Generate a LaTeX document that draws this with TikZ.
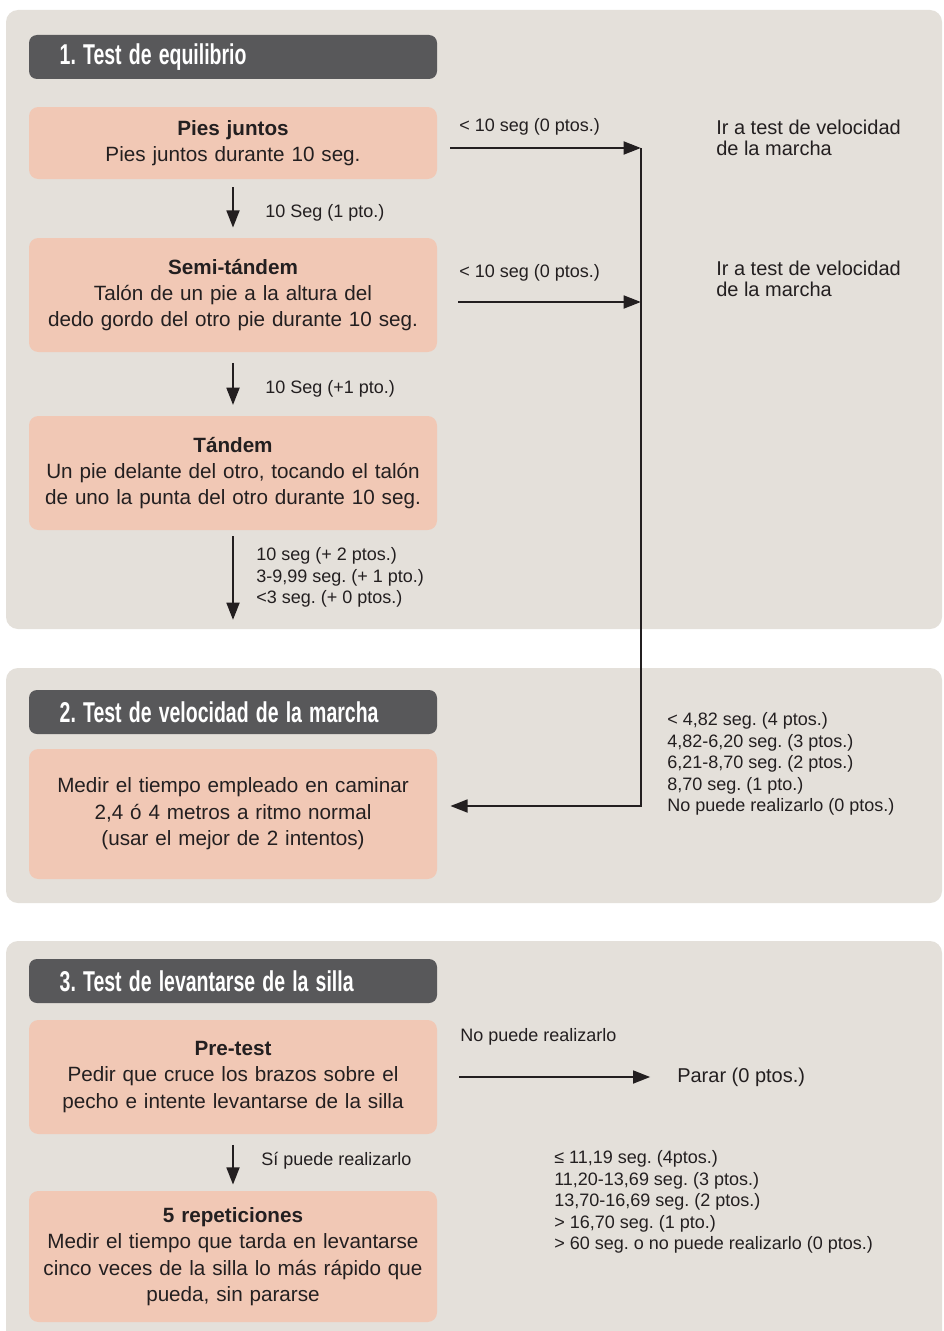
\documentclass[tikz,border=0pt]{standalone}
\usepackage{fontspec}
\setmainfont{Liberation Sans}
\newfontfamily\headfont[FakeStretch=0.68]{Liberation Sans}
\newcommand\hdspacing{\spaceskip=0.25em plus 0.05em\relax}
\frenchspacing
\usetikzlibrary{arrows.meta}
\definecolor{panelbg}{HTML}{E4E0DA}
\definecolor{boxbg}{HTML}{F1C8B5}
\definecolor{headbg}{HTML}{58585A}
\definecolor{ink}{HTML}{231F20}
\tikzset{
  panel/.style={fill=panelbg, draw=none, rounded corners=9pt},
  headbox/.style={fill=headbg, draw=none, rounded corners=6pt, minimum width=306pt, minimum height=33pt,
    text width=260pt, inner xsep=23pt, inner ysep=0pt, align=left, text=white,
    font=\headfont\bfseries\fontsize{21.5}{22}\selectfont},
  stepbox/.style={fill=boxbg, draw=none, rounded corners=7pt, minimum width=306pt,
    text width=300pt, inner xsep=3pt, align=center, text=ink,
    font=\fontsize{15.5}{19.8}\selectfont},
  lbl/.style={inner sep=0pt, anchor=west, align=left, text=ink, font=\fontsize{13.5}{16.1}\selectfont},
  biglbl/.style={inner sep=0pt, anchor=west, align=left, text=ink, font=\fontsize{15}{15.9}\selectfont},
  conn/.style={draw=ink, line width=2.1pt},
  arr/.style={conn, -{Triangle[length=13pt,width=9.5pt]}},
}
\begin{document}
\frenchspacing
\begin{tikzpicture}[x=0.75pt,y=-0.75pt]
\clip (0,0) rectangle (943,1331);
\fill[white] (0,0) rectangle (943,1331);
% panels
\fill[panel] (6,10) rectangle (942,629);
\fill[panel] (6,668) rectangle (942,903);
\fill[panel] (6,941) rectangle (942,1360);

% headers
\node[headbox] (h1) at (233,57) {\hdspacing 1. Test de equilibrio};
\node[headbox] (h2) at (233,712) {\hdspacing 2. Test de velocidad de la marcha};
\node[headbox] (h3) at (233,981) {\hdspacing 3. Test de levantarse de la silla};

% section 1 boxes
\node[stepbox, minimum height=54pt] (p1) at (233,143) {\textbf{Pies juntos}\\Pies juntos durante 10 seg.};
\node[stepbox, minimum height=85.5pt] (p2) at (233,295) {\textbf{Semi-tándem}\\Talón de un pie a la altura del\\dedo gordo del otro pie durante 10 seg.};
\node[stepbox, minimum height=85.5pt] (p3) at (233,473) {\textbf{Tándem}\\Un pie delante del otro, tocando el talón\\de uno la punta del otro durante 10 seg.};

% section 2 box
\node[stepbox, minimum height=97.5pt] (m1) at (233,814) {Medir el tiempo empleado en caminar\\2,4 ó 4 metros a ritmo normal\\(usar el mejor de 2 intentos)};

% section 3 boxes
\node[stepbox, minimum height=85.5pt] (q1) at (233,1077) {\textbf{Pre-test}\\Pedir que cruce los brazos sobre el\\pecho e intente levantarse de la silla};
\node[stepbox, minimum height=98.25pt] (q2) at (233,1256.5) {\textbf{5 repeticiones}\\Medir el tiempo que tarda en levantarse\\cinco veces de la silla lo más rápido que\\pueda, sin pararse};

% coordinates
\coordinate (j1) at (641,148);
\coordinate (j2) at (641,302);
\coordinate (j3) at (641,806);
\coordinate (e3) at (233,620);

% vertical arrows
\draw[arr, shorten <=6pt, shorten >=7.5pt] (p1.south) -- (p2.north);
\draw[arr, shorten <=8pt, shorten >=8pt] (p2.south) -- (p3.north);
\draw[arr, shorten <=4.5pt] (p3.south) -- (e3);
\draw[arr, shorten <=8pt, shorten >=4.5pt] (q1.south) -- (q2.north);

% right-hand arrows
\draw[arr, shorten <=9.75pt] (p1.east |- j1) -- (j1);
\draw[arr, shorten <=15.75pt] (p2.east |- j2) -- (j2);
\draw[arr, shorten >=9.75pt] (j1) -- (j3) -- (m1.east |- j3);

% labels section 1
\node[lbl] (l1) at (459,127) {< 10 seg (0 ptos.)};
\node[lbl] (l2) at (459,273) {< 10 seg (0 ptos.)};
\node[biglbl] (g1) at (716,137.5) {Ir a test de velocidad\\de la marcha};
\node[biglbl] (g2) at (716,279) {Ir a test de velocidad\\de la marcha};
\node[lbl] (s1) at (265,213) {10 Seg (1 pto.)};
\node[lbl] (s2) at (265,389) {10 Seg (+1 pto.)};
\node[lbl] (s3) at (256,577.5) {10 seg (+ 2 ptos.)\\3-9,99 seg. (+ 1 pto.)\\<3 seg. (+ 0 ptos.)};

% labels section 2
\node[lbl] (v1) at (667,764) {< 4,82 seg. (4 ptos.)\\4,82-6,20 seg. (3 ptos.)\\6,21-8,70 seg. (2 ptos.)\\8,70 seg. (1 pto.)\\No puede realizarlo (0 ptos.)};

% section 3
\node[lbl] (n1) at (460,1037) {No puede realizarlo};
\node[biglbl] (stop) at (677,1077) {Parar (0 ptos.)};
\draw[arr, shorten <=16.5pt, shorten >=20pt] (q1.east |- stop) -- (stop.west);
\node[lbl] (y1) at (261,1161) {Sí puede realizarlo};
\node[lbl] (c1) at (554,1202) {≤ 11,19 seg. (4ptos.)\\11,20-13,69 seg. (3 ptos.)\\13,70-16,69 seg. (2 ptos.)\\> 16,70 seg. (1 pto.)\\> 60 seg. o no puede realizarlo (0 ptos.)};
\end{tikzpicture}
\end{document}
